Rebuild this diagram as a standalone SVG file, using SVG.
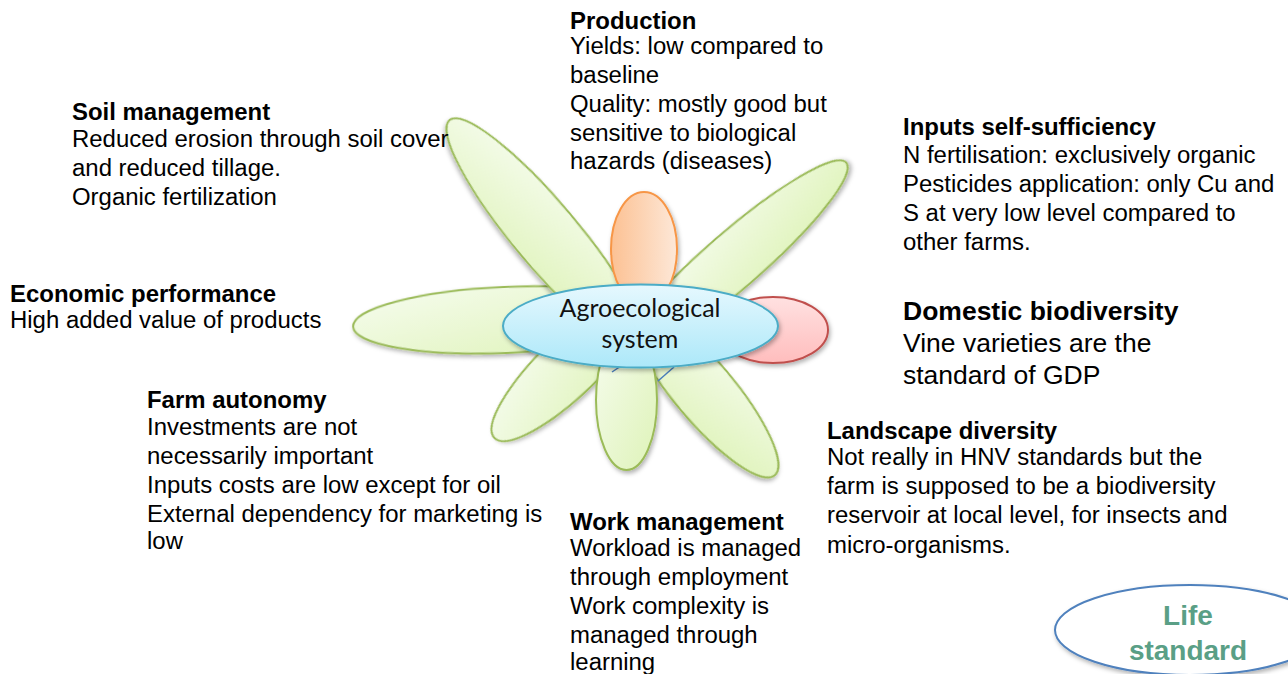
<svg xmlns="http://www.w3.org/2000/svg" width="1288" height="674" viewBox="0 0 1288 674">
<style>
.t{font-family:"Liberation Sans",Arial,sans-serif;font-size:23.95px;fill:#000}
.b{font-weight:bold}
.big{font-size:26.5px}
.petal{fill:url(#gGreen);stroke:#9bbb59;stroke-width:2;filter:url(#sh)}
.ctr{font-family:Lato,"Open Sans",sans-serif;font-size:25px;fill:#111;text-anchor:middle}
.life{font-family:"Liberation Sans",Arial,sans-serif;font-size:28px;font-weight:bold;fill:#5a9f86;text-anchor:middle}
</style>
<defs>
<linearGradient id="gGreen" x1="0" y1="0" x2="1" y2="1">
<stop offset="0" stop-color="#f6fcee"/>
<stop offset="1" stop-color="#def3b8"/>
</linearGradient>
<linearGradient id="gOrange" x1="0" y1="0" x2="1" y2="0">
<stop offset="0" stop-color="#fcc193"/>
<stop offset="1" stop-color="#fde8d8"/>
</linearGradient>
<linearGradient id="gRed" x1="0" y1="0" x2="0" y2="1">
<stop offset="0" stop-color="#ffe1e1"/>
<stop offset="1" stop-color="#ffbdbd"/>
</linearGradient>
<linearGradient id="gBlue" x1="0" y1="0" x2="0" y2="1">
<stop offset="0" stop-color="#e6f8fe"/>
<stop offset="1" stop-color="#ace8f9"/>
</linearGradient>
<filter id="sh" x="-20%" y="-20%" width="140%" height="150%">
<feDropShadow dx="1.5" dy="2.5" stdDeviation="2" flood-color="#000" flood-opacity="0.3"/>
</filter>
</defs>
<rect width="1288" height="674" fill="#fff"/>

<g id="flower">
<g id="petal-left"><ellipse class="petal" cx="505" cy="320" rx="152" ry="33" transform="rotate(-2.5 505 320)"/></g>
<g id="petal-upper-left"><ellipse class="petal" cx="546" cy="235" rx="150" ry="32" transform="rotate(50 546 235)"/></g>
<g id="petal-upper-right"><ellipse class="petal" cx="733" cy="261" rx="150" ry="28" transform="rotate(-41 733 261)"/></g>
<g id="petal-top"><ellipse cx="644" cy="249" rx="33" ry="57" fill="url(#gOrange)" stroke="#f79646" stroke-width="2" filter="url(#sh)"/></g>
<g id="petal-right"><ellipse cx="773" cy="330" rx="55" ry="33" fill="url(#gRed)" stroke="#c0504d" stroke-width="2" filter="url(#sh)"/></g>
<g id="petal-lower-left"><ellipse class="petal" cx="570" cy="365" rx="105" ry="30" transform="rotate(-44 570 365)"/></g>
<g id="petal-lower-right"><ellipse class="petal" cx="704" cy="391" rx="110" ry="30" transform="rotate(50 704 391)"/></g>
<g id="petal-bottom"><ellipse class="petal" cx="626.5" cy="400" rx="30.5" ry="70"/></g>
</g>

<g id="connectors" stroke="#4a7ebb" stroke-width="1.5" fill="none">
<line x1="612" y1="372" x2="621" y2="366"/>
<line x1="658" y1="381" x2="674" y2="367"/>
</g>

<g id="center">
<ellipse cx="640.5" cy="326" rx="137.5" ry="41.5" fill="url(#gBlue)" stroke="#4bacc6" stroke-width="2" filter="url(#sh)"/>
<text class="ctr" x="640" y="317">Agroecological</text>
<text class="ctr" x="640" y="348">system</text>
</g>

<g id="production">
<text class="t b" x="570" y="29">Production</text>
<text class="t" x="570" y="54">Yields: low compared to</text>
<text class="t" x="570" y="83">baseline</text>
<text class="t" x="570" y="112">Quality: mostly good but</text>
<text class="t" x="570" y="141">sensitive to biological</text>
<text class="t" x="570" y="169">hazards (diseases)</text>
</g>

<g id="soil-management">
<text class="t b" x="72" y="120">Soil management</text>
<text class="t" x="72" y="147">Reduced erosion through soil cover</text>
<text class="t" x="72" y="176">and reduced tillage.</text>
<text class="t" x="72" y="205">Organic fertilization</text>
</g>

<g id="inputs">
<text class="t b" x="903" y="135">Inputs self-sufficiency</text>
<text class="t" x="903" y="163">N fertilisation: exclusively organic</text>
<text class="t" x="903" y="192">Pesticides application: only Cu and</text>
<text class="t" x="903" y="221">S at very low level compared to</text>
<text class="t" x="903" y="250">other farms.</text>
</g>

<g id="economic">
<text class="t b" x="10" y="302">Economic performance</text>
<text class="t" x="10" y="328">High added value of products</text>
</g>

<g id="domestic">
<text class="t b big" x="903" y="320">Domestic biodiversity</text>
<text class="t big" x="903" y="352">Vine varieties are the</text>
<text class="t big" x="903" y="384">standard of GDP</text>
</g>

<g id="farm-autonomy">
<text class="t b" x="147" y="408">Farm autonomy</text>
<text class="t" x="147" y="435">Investments are not</text>
<text class="t" x="147" y="464">necessarily important</text>
<text class="t" x="147" y="493">Inputs costs are low except for oil</text>
<text class="t" x="147" y="522">External dependency for marketing is</text>
<text class="t" x="147" y="549">low</text>
</g>

<g id="landscape">
<text class="t b" x="827" y="439">Landscape diversity</text>
<text class="t" x="827" y="465">Not really in HNV standards but the</text>
<text class="t" x="827" y="494">farm is supposed to be a biodiversity</text>
<text class="t" x="827" y="523">reservoir at local level, for insects and</text>
<text class="t" x="827" y="553">micro-organisms.</text>
</g>

<g id="work">
<text class="t b" x="570" y="530">Work management</text>
<text class="t" x="570" y="556">Workload is managed</text>
<text class="t" x="570" y="585">through employment</text>
<text class="t" x="570" y="614">Work complexity is</text>
<text class="t" x="570" y="643">managed through</text>
<text class="t" x="570" y="670">learning</text>
</g>

<g id="life-standard">
<ellipse cx="1190" cy="630" rx="135" ry="45" fill="#fff" stroke="#4f81bd" stroke-width="2" filter="url(#sh)"/>
<text class="life" x="1188" y="625">Life</text>
<text class="life" x="1188" y="660">standard</text>
</g>
</svg>
